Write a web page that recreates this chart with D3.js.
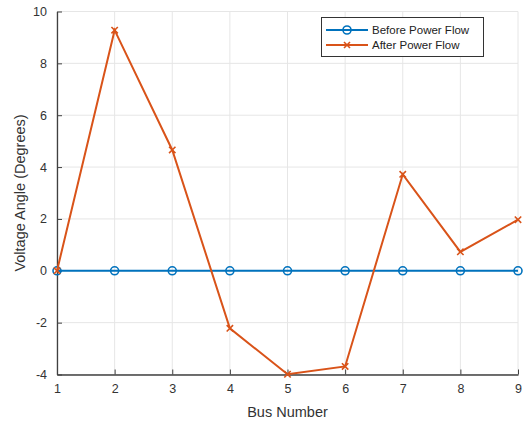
<!DOCTYPE html>
<html>
<head>
<meta charset="utf-8">
<script src="https://cdn.jsdelivr.net/npm/d3@7"></script>
<style>
  html, body { margin: 0; padding: 0; background: #fff; }
  svg { display: block; font-family: "Liberation Sans", Arial, Helvetica, sans-serif; }
</style>
</head>
<body>
<svg id="chart" width="523" height="421"></svg>
<script>
// Bus voltage angles (degrees) for the 9-bus system
const buses = [1, 2, 3, 4, 5, 6, 7, 8, 9];
const anglesBefore = [0, 0, 0, 0, 0, 0, 0, 0, 0];
const anglesAfter = [0, 9.28, 4.66, -2.22, -3.99, -3.69, 3.72, 0.73, 1.97];
const yTicks = [-4, -2, 0, 2, 4, 6, 8, 10];
const seriesNames = ["Before Power Flow", "After Power Flow"];

const svg = d3.select("#chart");
const margin = { left: 57, right: 5, top: 11.5, bottom: 46.5 };
const W = 523, H = 421;

const x = d3.scaleLinear().domain([1, 9]).range([margin.left, W - margin.right]);
const y = d3.scaleLinear().domain([-4, 10]).range([H - margin.bottom, margin.top]);

const axisColor = "#404040";
const gridColor = "#e6e6e6";
const blue = "#0072BD";
const orange = "#D95319";

// grid
const grid = svg.append("g");
grid.selectAll(".gx").data(buses).enter().append("line")
  .attr("x1", d => x(d)).attr("x2", d => x(d))
  .attr("y1", y(-4)).attr("y2", y(10))
  .attr("stroke", gridColor).attr("stroke-width", 1);
grid.selectAll(".gy").data(yTicks).enter().append("line")
  .attr("x1", x(1)).attr("x2", x(9))
  .attr("y1", d => y(d)).attr("y2", d => y(d))
  .attr("stroke", gridColor).attr("stroke-width", 1);

// axes, ticks pointing inward, plain hyphen for negatives
const plain = d => String(d);
const xAxis = svg.append("g")
  .attr("transform", `translate(0,${y(-4)})`)
  .call(d3.axisBottom(x).tickValues(buses).tickFormat(plain).tickSizeInner(-5).tickSizeOuter(0).tickPadding(10));
const yAxis = svg.append("g")
  .attr("transform", `translate(${x(1)},0)`)
  .call(d3.axisLeft(y).tickValues(yTicks).tickFormat(plain).tickSizeInner(-5).tickSizeOuter(0).tickPadding(10));

[xAxis, yAxis].forEach(g => {
  g.select(".domain").attr("stroke", axisColor).attr("stroke-width", 1.3);
  g.selectAll(".tick line").attr("stroke", axisColor).attr("stroke-width", 1);
  g.selectAll(".tick text").attr("fill", "#333").attr("font-size", 12.5)
    .attr("font-family", "'Liberation Sans', Arial, sans-serif");
});

// axis labels
svg.append("text")
  .attr("x", (x(1) + x(9)) / 2).attr("y", 417)
  .attr("text-anchor", "middle").attr("font-size", 14.5).attr("fill", "#333")
  .text("Bus Number");
svg.append("text")
  .attr("transform", `translate(25,${(y(-4) + y(10)) / 2}) rotate(-90)`)
  .attr("text-anchor", "middle").attr("font-size", 14.5).attr("fill", "#333")
  .text("Voltage Angle (Degrees)");

const line = d3.line().x(d => x(d[0])).y(d => y(d[1]));
const before = buses.map((b, i) => [b, anglesBefore[i]]);
const after = buses.map((b, i) => [b, anglesAfter[i]]);

function crossPath(cx, cy, s) {
  return `M${cx - s},${cy - s}L${cx + s},${cy + s}M${cx - s},${cy + s}L${cx + s},${cy - s}`;
}

// Before series: line with open circles
svg.append("path").datum(before).attr("d", line)
  .attr("fill", "none").attr("stroke", blue).attr("stroke-width", 2);
svg.selectAll(".mb").data(before).enter().append("circle")
  .attr("cx", d => x(d[0])).attr("cy", d => y(d[1])).attr("r", 4)
  .attr("fill", "none").attr("stroke", blue).attr("stroke-width", 1.6);

// After series: line with x markers
svg.append("path").datum(after).attr("d", line)
  .attr("fill", "none").attr("stroke", orange).attr("stroke-width", 2);
svg.selectAll(".ma").data(after).enter().append("path")
  .attr("d", d => crossPath(x(d[0]), y(d[1]), 3.2))
  .attr("fill", "none").attr("stroke", orange).attr("stroke-width", 1.6);

// legend
const lg = svg.append("g");
lg.append("rect").attr("x", 321.5).attr("y", 17.5).attr("width", 162).attr("height", 39)
  .attr("fill", "#fff").attr("stroke", "#333").attr("stroke-width", 1);
const colors = [blue, orange];
seriesNames.forEach((name, i) => {
  const cy = 30 + i * 15;
  lg.append("line").attr("x1", 326).attr("x2", 368).attr("y1", cy).attr("y2", cy)
    .attr("stroke", colors[i]).attr("stroke-width", 2);
  if (i === 0) {
    lg.append("circle").attr("cx", 347).attr("cy", cy).attr("r", 4)
      .attr("fill", "none").attr("stroke", colors[i]).attr("stroke-width", 1.6);
  } else {
    lg.append("path").attr("d", crossPath(347, cy, 3))
      .attr("fill", "none").attr("stroke", colors[i]).attr("stroke-width", 1.6);
  }
  lg.append("text").attr("x", 372).attr("y", cy + 4).attr("font-size", 11.5).attr("fill", "#222")
    .text(name);
});
</script>
</body>
</html>
